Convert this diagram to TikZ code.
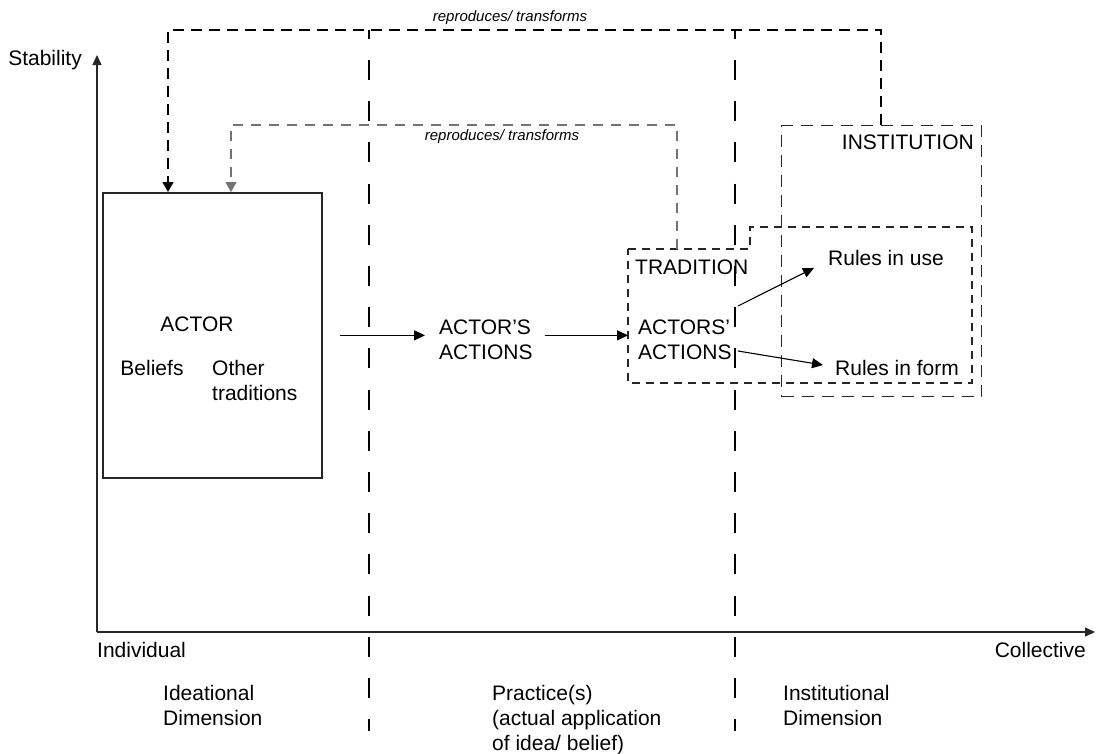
\documentclass[tikz,border=0pt]{standalone}
\usepackage{fontspec}
\setmainfont{Liberation Sans}
\usetikzlibrary{arrows.meta}
\begin{document}
\begin{tikzpicture}[x=1pt,y=-1pt,
  txt/.style={font=\fontsize{21}{25}\selectfont, inner sep=2pt},
  lbl/.style={font=\fontsize{15}{18}\selectfont\itshape, inner sep=1pt},
  axis/.style={line width=1.4pt, draw=black!85, -{Triangle[length=10pt,width=9pt]}},
  arr/.style={line width=1.1pt, -{Triangle[length=11pt,width=10pt]}},
  vdash/.style={line width=1.6pt, dash pattern=on 20pt off 21.2pt, dash phase=11.2pt},
  topconn/.style={line width=1.7pt, dash pattern=on 11pt off 7pt, -{Triangle[length=10pt,width=11pt]}},
  grayconn/.style={line width=1.2pt, draw=black!55, dash pattern=on 10pt off 8pt, -{Triangle[length=10pt,width=11pt]}},
  tradbox/.style={line width=1.2pt, draw=black!85, dash pattern=on 8pt off 6pt},
  instbox/.style={draw, line width=1.4pt, draw=black!85, dash pattern=on 12pt off 8pt, inner sep=0pt},
  actorbox/.style={draw, line width=1.7pt, draw=black!85, inner sep=0pt}
]
\useasboundingbox (0,0) rectangle (1096,753);

% axes
\coordinate (O) at (97,632);
\coordinate (ytop) at (97,55);
\coordinate (xend) at (1095,632);
\draw[axis] (O) -- (ytop);
\draw[axis] (O) -- (xend);
\node[txt, anchor=east] (stab) at (84,60) {Stability};
\node[txt, anchor=west] (indiv) at (95,650) {Individual};
\node[txt, anchor=east] (coll) at (1088,650) {Collective};

% vertical dimension dividers
\draw[vdash] (369,30) -- (369,731);
\draw[vdash, line width=2pt] (735,30) -- (735,731);

% bottom dimension labels
\node[txt, align=left, anchor=north west] (ideat) at (161,683) {Ideational\\Dimension};
\node[txt, align=left, anchor=north west] (pract) at (490,683) {Practice(s)\\(actual application\\of idea/ belief)};
\node[txt, align=left, anchor=north west] (instit) at (781,683) {Institutional\\Dimension};

% actor box
\node[actorbox, anchor=north west, minimum width=219pt, minimum height=285pt] (actor) at (102,192) {};
\node[txt] (actorlbl) at (197,324) {ACTOR};
\node[txt] (beliefs) at (152,368) {Beliefs};
\node[txt, align=left, anchor=north west] (other) at (210,358) {Other\\traditions};

% actor's actions
\node[txt, align=left, anchor=west] (aacts) at (437,340) {ACTOR'S\\ACTIONS};
\draw[arr, shorten >=12pt] ([xshift=17pt]actor.east) -- (actor.east -| aacts.west);

% tradition box
\coordinate (trA) at (628,249);
\coordinate (trB) at (750,249);
\coordinate (trC) at (750,227);
\coordinate (trD) at (972,227);
\coordinate (trE) at (972,383);
\coordinate (trF) at (628,383);
\draw[tradbox] (trA) -- (trB) -- (trC) -- (trD) -- (trE) -- (trF) -- cycle;
\node[txt, anchor=west] (tradlbl) at (633,267) {TRADITION};
\node[txt, align=left, anchor=west] (aact2) at (636,340) {ACTORS'\\ACTIONS};
\draw[arr, shorten <=10pt] (aacts.east |- actor.east) -- (trA |- actor.east);

% institution box
\node[instbox, anchor=north west, minimum width=200pt, minimum height=271pt] (inst) at (781,125) {};
\node[txt, anchor=east] (instlbl) at (976,142) {INSTITUTION};

\node[txt, anchor=west] (ruse) at (826,258) {Rules in use};
\node[txt, anchor=west] (rform) at (833,368) {Rules in form};
\coordinate (s1) at (738,306);
\coordinate (s2) at (738,351);
\draw[arr] (s1) -- ([xshift=-12pt]ruse.south west);
\draw[arr] (s2) -- ([shift={(-10pt,3pt)}]rform.west);

% feedback connectors
\draw[topconn] ([xshift=100pt]inst.north west) |- (510,30) -| ([xshift=66pt]actor.north west);
\node[lbl] (rt1) at (510,18) {reproduces/ transforms};
\draw[grayconn] ([xshift=49pt]trA) |- (450,125) -| ([xshift=129pt]actor.north west);
\node[lbl] (rt2) at (502,137) {reproduces/ transforms};
\end{tikzpicture}
\end{document}
